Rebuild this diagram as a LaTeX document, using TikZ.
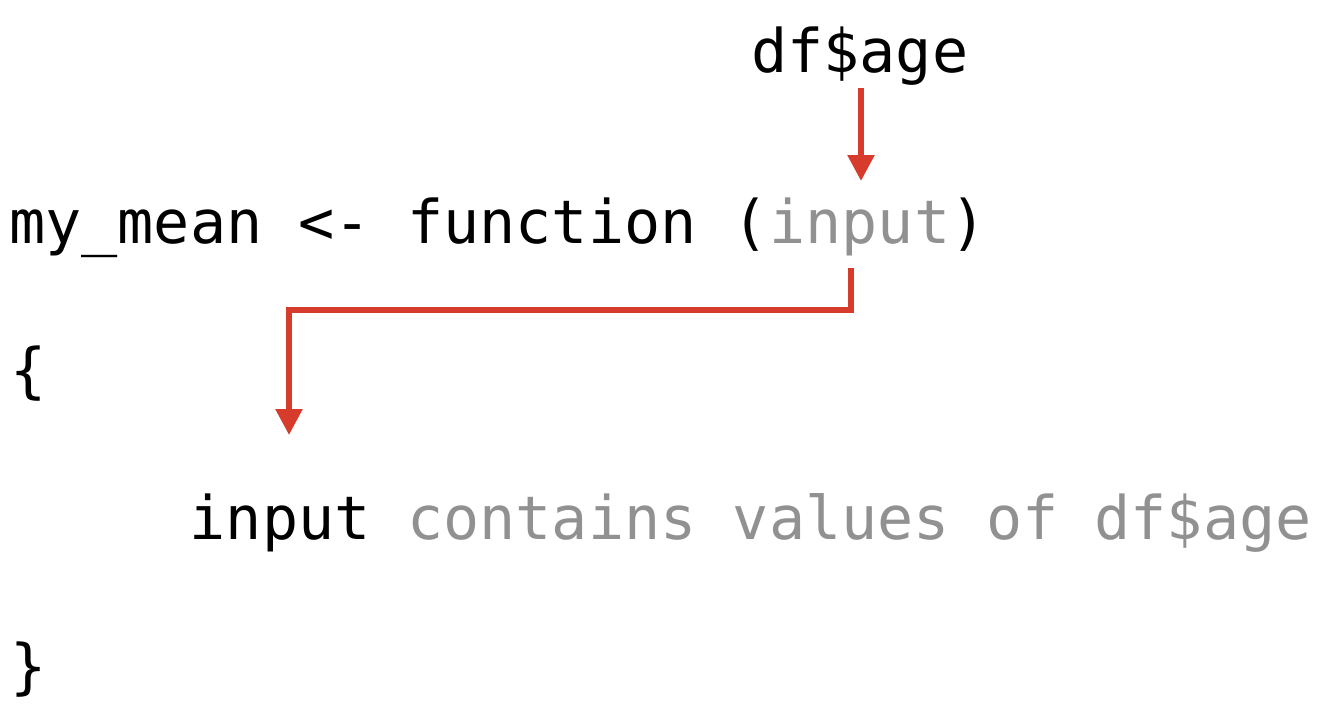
\documentclass[tikz,border=0pt]{standalone}
\usepackage{fontspec}
\setmonofont{DejaVu Sans Mono}[WordSpace={1,0,0}]
\usetikzlibrary{arrows.meta}
\definecolor{codered}{RGB}{214,59,43}
\definecolor{codegrey}{RGB}{145,145,145}
\tikzset{
  code/.style={inner sep=0pt, anchor=base west, text=black,
    font=\ttfamily\fontsize{60.1}{61}\selectfont},
  dim/.style={text=codegrey},
  flow/.style={draw=codered, line width=5.5pt,
    -{Triangle[width=26pt,length=26pt]}},
}
\begin{document}
\begin{tikzpicture}[x=1pt,y=-1pt]
  \useasboundingbox (0,0) rectangle (1318,712);
  % argument supplied at the call
  \node[code] (arg) at (751,72) {df\$age};
  % function signature
  \node[code] (sig) at (9,243) {my\_mean <- function (};
  \node[code,dim] (param) at (sig.base east) {input};
  \node[code] (close) at (param.base east) {)};
  % body
  \node[code] (open) at (10,391) {\{};
  \node[code] (body) at (189.5,539) {input};
  \node[code,dim] (note) at (body.base east) {\ contains values of df\$age};
  \node[code] (end) at (10,687) {\}};
  % connector ends
  \coordinate (argfoot) at (861,88);
  \coordinate (argtip) at (861,181);
  \coordinate (paramfoot) at (851,268);
  \coordinate (bend) at (851,310);
  \coordinate (bodytip) at (289,435);
  % value passed into the parameter
  \draw[flow] (argfoot) -- (argtip);
  % parameter used inside the body
  \draw[flow] (paramfoot) -- (bend) -| (bodytip);
\end{tikzpicture}
\end{document}
